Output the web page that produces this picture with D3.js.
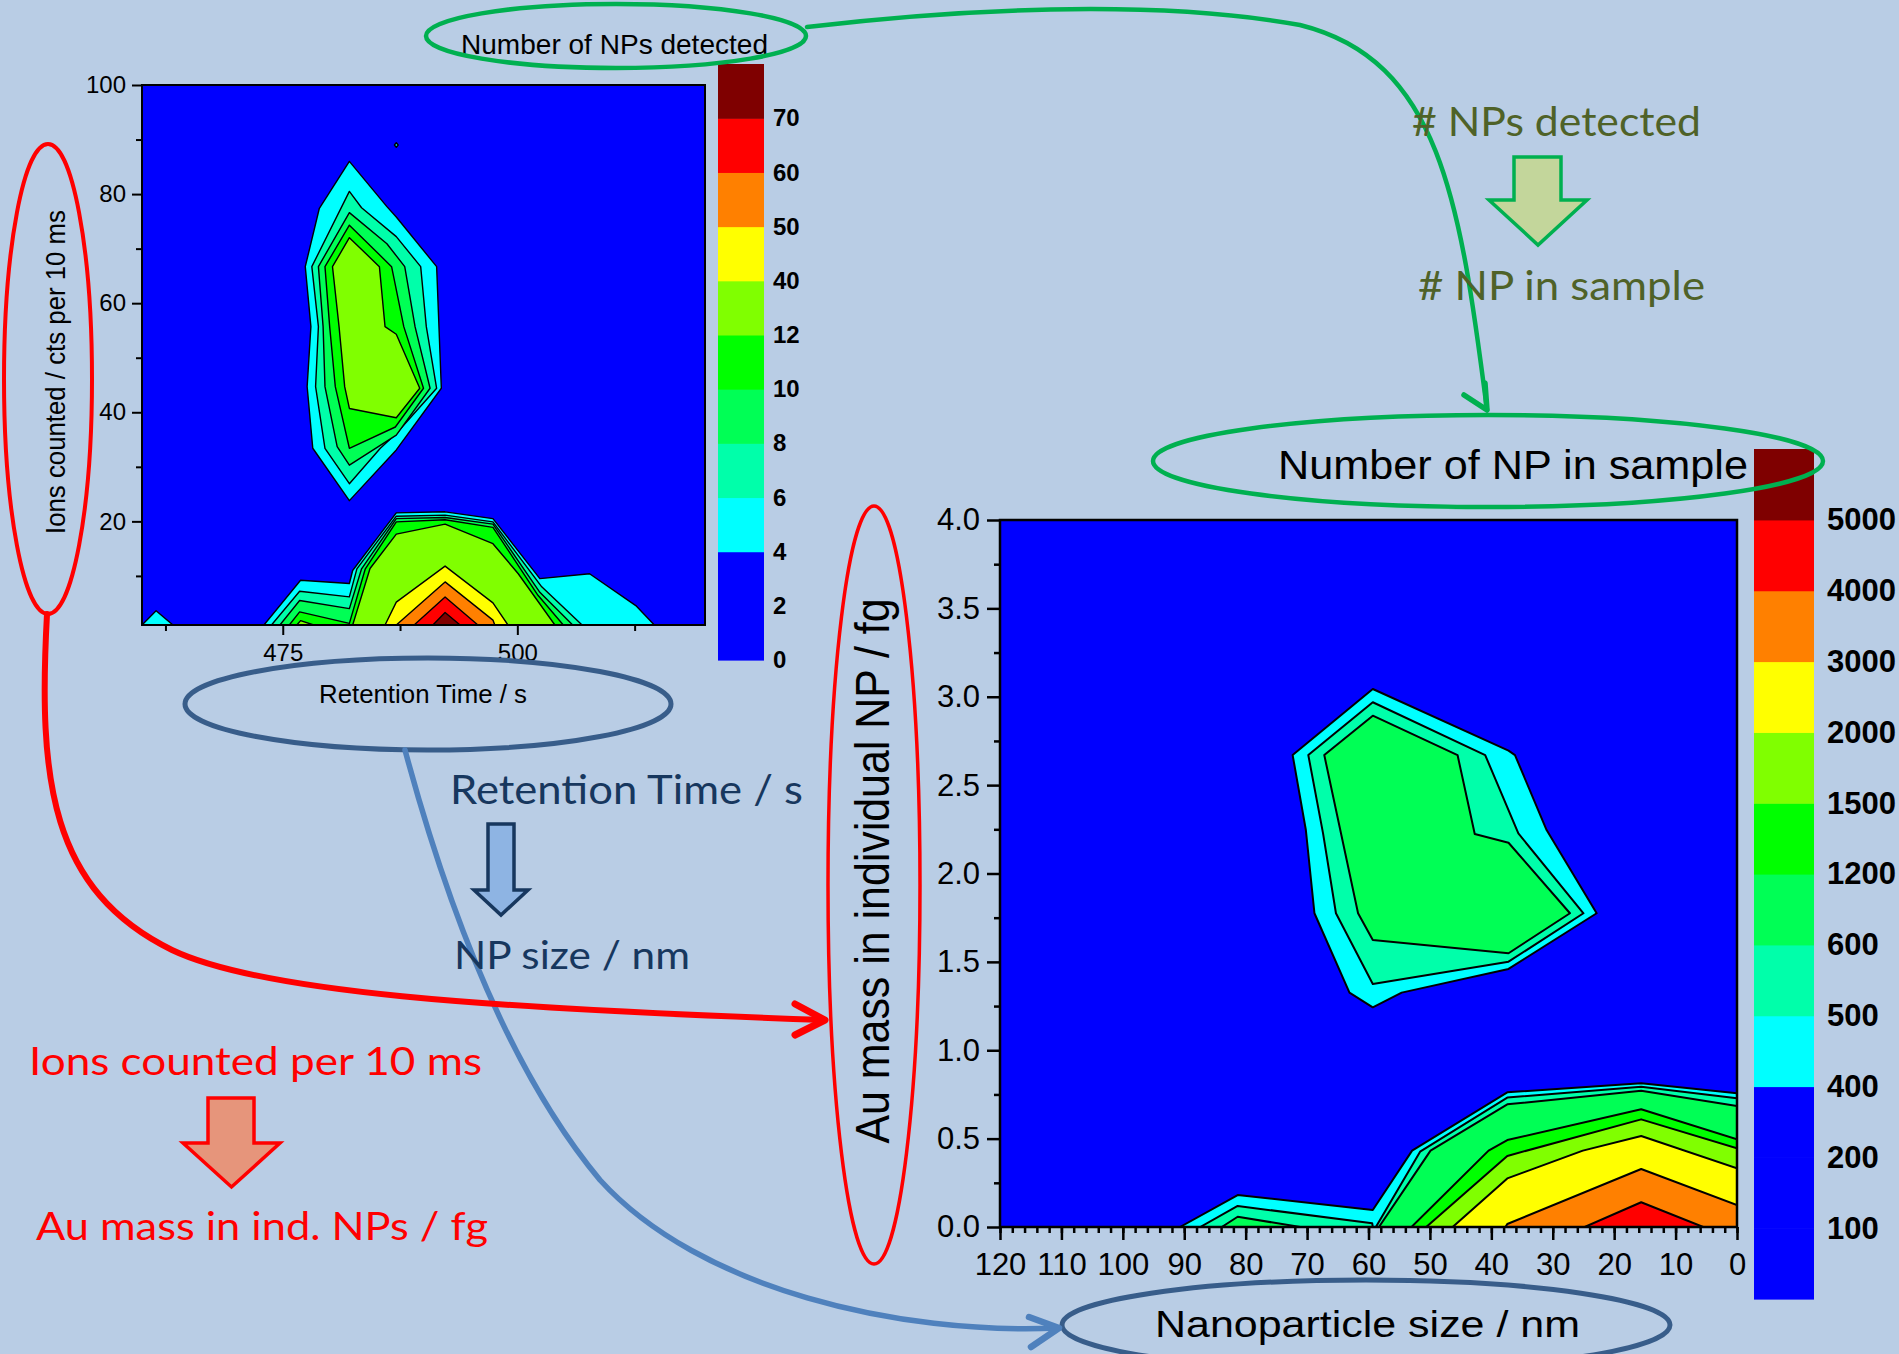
<!DOCTYPE html>
<html>
<head>
<meta charset="utf-8">
<script src="https://cdn.jsdelivr.net/npm/d3@7"></script>
<style>
  body { margin: 0; background: #b9cde5; }
  svg { display: block; }
</style>
</head>
<body>
<div id="visualization"></div>
<script>
let w = 1899;
let h = 1354;

// ---------- small plot: number of NPs detected ----------
let detLevels = [0, 2, 4, 6, 8, 10, 12, 40, 50, 60, 70, 80];
let detColors = ["#0000ff", "#0000ff", "#00ffff", "#00ffaa", "#00ff55", "#00ff00",
                 "#80ff00", "#ffff00", "#ff8000", "#ff0000", "#7f0000"];
let detXTicks = [475, 500];
let detXMinor = [462.5, 487.5, 512.5];
let detYTicks = [20, 40, 60, 80, 100];
let detYMinor = [10, 30, 50, 70, 90];
// contour outlines, [retention time s, ions counted] for value >= level
let detContours = [
  {level: 4, pts: [[482.1,86.0],[486.1,77.7],[487.1,75.8],[491.4,66.7],[491.9,44.4],[487.1,33.1],[482.1,23.8],[478.2,33.4],[477.6,44.7],[478.0,55.7],[477.4,66.7],[478.9,77.4]]},
  {level: 6, pts: [[482.1,80.5],[483.4,77.5],[487.1,72.2],[489.7,66.7],[490.3,55.7],[491.4,44.4],[487.1,36.1],[485.4,33.4],[482.1,26.9],[479.5,33.4],[478.5,44.7],[478.8,55.7],[478.1,66.7]]},
  {level: 8, pts: [[482.1,76.6],[486.1,70.9],[488.0,66.7],[489.1,55.7],[490.7,44.4],[487.1,35.8],[482.1,30.3],[480.8,33.7],[479.5,44.7],[479.3,55.7],[478.8,66.7]]},
  {level: 10, pts: [[482.1,74.3],[486.6,66.7],[487.9,55.7],[490.0,44.4],[487.0,37.3],[482.1,33.4],[480.6,44.7],[480.0,55.7],[479.5,66.7]]},
  {level: 12, pts: [[482.1,72.0],[485.3,66.7],[485.9,55.7],[487.1,54.3],[489.6,44.4],[487.1,39.0],[482.1,40.7],[481.6,44.7],[481.0,55.7],[480.3,66.7]]},
  {level: 4, pts: [[486.9,89.0],[487.1,89.4],[487.3,89.0],[487.1,88.6]]},
  {level: 4, pts: [[460.0,1],[461.5,3.6],[463.3,1]]},
  {level: 4, pts: [[473.0,1],[476.9,9.2],[482.1,8.6],[482.45,11.0],[487.1,21.55],[492.3,21.75],[497.4,20.5],[502.4,9.5],[507.7,10.4],[512.7,4.45],[514.6,1]]},
  {level: 6, pts: [[473.8,1],[476.8,7.2],[482.1,6.15],[482.9,11.3],[487.1,20.95],[492.3,21.15],[497.4,19.9],[502.6,8.0],[506.9,1]]},
  {level: 8, pts: [[474.7,1],[476.8,5.5],[482.1,4.0],[483.4,11.3],[487.1,20.5],[492.3,20.7],[497.4,19.5],[502.4,7.0],[505.9,1]]},
  {level: 10, pts: [[475.7,1],[476.8,3.4],[482.1,1.3],[483.8,11.3],[487.1,19.9],[492.3,20.3],[497.4,18.9],[502.2,6.45],[504.9,1]]},
  {level: 12, pts: [[482.45,1],[484.3,11.35],[487.1,17.65],[492.3,19.5],[497.4,15.9],[500.1,10.4],[504.0,1]]},
  {level: 12, pts: [[476.5,1],[476.9,1.8],[478.3,1]]},
  {level: 40, pts: [[485.9,1],[487.1,5.2],[492.3,11.8],[497.4,5.05],[499.0,1]]},
  {level: 50, pts: [[487.1,1],[492.3,8.9],[497.4,1.9],[497.6,1]]},
  {level: 60, pts: [[489.0,1],[492.3,6.15],[495.8,1]]},
  {level: 70, pts: [[491.0,1],[492.3,3.3],[493.9,1]]}
];

// ---------- big plot: number of NP in sample ----------
let smpLevels = [0, 100, 200, 400, 500, 600, 1200, 1500, 2000, 3000, 4000, 5000, 6000];
let smpColors = ["#0000ff", "#0000ff", "#0000ff", "#00ffff", "#00ffaa", "#00ff55",
                 "#00ff00", "#80ff00", "#ffff00", "#ff8000", "#ff0000", "#7f0000"];
let smpXTicks = [0, 10, 20, 30, 40, 50, 60, 70, 80, 90, 100, 110, 120];
let smpXMinor = d3.range(0, 121, 2);
let smpYTicks = [0, 0.5, 1, 1.5, 2, 2.5, 3, 3.5, 4];
let smpYMinor = [0.25, 0.75, 1.25, 1.75, 2.25, 2.75, 3.25, 3.75];
// contour outlines, [size nm, mass fg] for value >= level
let smpContours = [
  {level: 400, pts: [[59.3,3.044],[37.2,2.695],[36.15,2.670],[31.0,2.246],[22.85,1.775],[37.2,1.460],[54.6,1.326],[59.3,1.243],[63.1,1.326],[68.8,1.775],[70.2,2.246],[72.35,2.670]]},
  {level: 500, pts: [[59.3,2.969],[41.0,2.670],[35.6,2.227],[25.0,1.775],[37.2,1.501],[59.3,1.375],[65.3,1.775],[67.4,2.227],[69.8,2.670]]},
  {level: 600, pts: [[59.3,2.893],[45.5,2.670],[42.7,2.223],[37.2,2.174],[27.2,1.775],[37.2,1.549],[59.3,1.624],[61.7,1.775],[67.2,2.670]]},
  {level: 400, pts: [[90.7,0],[81.3,0.181],[59.3,0.096],[52.9,0.432],[37.4,0.762],[15.6,0.813],[0,0.756],[0,0]]},
  {level: 500, pts: [[87.4,0],[81.3,0.119],[59.4,0.021],[59.3,0]]},
  {level: 500, pts: [[58.8,0],[51.6,0.426],[37.4,0.732],[15.6,0.794],[0,0.728],[0,0]]},
  {level: 600, pts: [[83.9,0],[81.3,0.058],[71.1,0]]},
  {level: 600, pts: [[58.3,0],[49.9,0.432],[37.4,0.694],[15.6,0.771],[0,0.685],[0,0]]},
  {level: 1200, pts: [[53.0,0],[40.45,0.432],[37.4,0.492],[15.6,0.666],[0,0.496],[0,0]]},
  {level: 1500, pts: [[50.6,0],[37.4,0.402],[15.6,0.609],[0,0.445],[0,0]]},
  {level: 2000, pts: [[46.3,0],[37.4,0.275],[25.1,0.432],[15.6,0.515],[0,0.332],[0,0]]},
  {level: 3000, pts: [[37.7,0],[37.4,0.017],[15.6,0.328],[0,0.124],[0,0]]},
  {level: 4000, pts: [[24.8,0],[15.6,0.140],[5.5,0]]}
];

let chartFont = "'Liberation Sans', Arial, sans-serif";
let noteFont = "Lato, 'Open Sans', sans-serif";

let viz = d3.select("#visualization")
  .append("svg")
    .attr("width", w)
    .attr("height", h)
    .style("background-color", "#b9cde5")
;

function contourPlot(o) {
  let x = d3.scaleLinear().domain(o.xDomain).range([o.left, o.right]);
  let y = d3.scaleLinear().domain(o.yDomain).range([o.bottom, o.top]);
  let g = viz.append("g").attr("class", o.id);

  g.append("clipPath").attr("id", o.id + "-clip")
    .append("rect")
      .attr("x", o.left).attr("y", o.top)
      .attr("width", o.right - o.left).attr("height", o.bottom - o.top);

  // lowest band fills the frame
  g.append("rect")
    .attr("x", o.left).attr("y", o.top)
    .attr("width", o.right - o.left).attr("height", o.bottom - o.top)
    .attr("fill", o.colors[0]);

  let line = d3.line()
    .x(d => x(d[0]))
    .y(d => y(d[1]))
    .curve(d3.curveLinearClosed);

  let sorted = o.contours.slice().sort((a, b) => a.level - b.level);
  g.append("g")
    .attr("clip-path", "url(#" + o.id + "-clip)")
    .selectAll(".contour").data(sorted).enter()
    .append("path")
      .attr("class", "contour")
      .attr("d", d => line(d.pts))
      .attr("fill", d => o.colors[o.levels.indexOf(d.level)])
      .attr("stroke", "#000")
      .attr("stroke-width", o.lineW)
      .attr("stroke-linejoin", "round");

  // axes
  let xAxis = d3.axisBottom(x).tickValues(o.xTicks).tickFormat(o.xFormat)
    .tickSize(o.major).tickPadding(o.xPad);
  let xMinor = d3.axisBottom(x).tickValues(o.xMinor).tickFormat("").tickSize(o.minor);
  let yAxis = d3.axisLeft(y).tickValues(o.yTicks).tickFormat(o.yFormat)
    .tickSize(o.major).tickPadding(o.yPad);
  let yMinor = d3.axisLeft(y).tickValues(o.yMinor).tickFormat("").tickSize(o.minor);

  [[xAxis, "translate(0," + o.bottom + ")"], [xMinor, "translate(0," + o.bottom + ")"],
   [yAxis, "translate(" + o.left + ",0)"], [yMinor, "translate(" + o.left + ",0)"]].forEach(a => {
    let ag = g.append("g").attr("transform", a[1]).call(a[0]);
    ag.select(".domain").remove();
    ag.attr("font-family", chartFont).attr("font-size", o.tickFont);
    ag.selectAll("line").attr("stroke", "#000").attr("stroke-width", o.frameW);
    ag.selectAll("text").attr("fill", "#000");
  });

  // frame
  g.append("rect")
    .attr("x", o.left).attr("y", o.top)
    .attr("width", o.right - o.left).attr("height", o.bottom - o.top)
    .attr("fill", "none")
    .attr("stroke", "#000")
    .attr("stroke-width", o.frameW);

  return g;
}

function colorBar(o) {
  let s = d3.scaleLinear().domain([0, o.levels.length - 1]).range([o.bottom, o.top]);
  let g = viz.append("g");
  g.selectAll("rect").data(o.colors).enter()
    .append("rect")
      .attr("x", o.left)
      .attr("width", o.width)
      .attr("y", (d, i) => s(i + 1))
      .attr("height", (d, i) => s(i) - s(i + 1) + 0.6)
      .attr("fill", d => d);
  let axis = d3.axisRight(s)
    .tickValues(o.labelIdx)
    .tickFormat(i => o.levels[i])
    .tickSize(0)
    .tickPadding(o.pad);
  let ag = g.append("g").attr("transform", "translate(" + (o.left + o.width) + ",0)").call(axis);
  ag.select(".domain").remove();
  ag.attr("font-family", chartFont).attr("font-size", o.font).attr("font-weight", "bold");
  ag.selectAll("text").attr("fill", "#000");
}

contourPlot({
  id: "det", xDomain: [460, 520], yDomain: [1, 100],
  left: 142, right: 705, top: 85, bottom: 625,
  levels: detLevels, colors: detColors, contours: detContours,
  xTicks: detXTicks, xMinor: detXMinor, yTicks: detYTicks, yMinor: detYMinor,
  xFormat: d3.format("d"), yFormat: d3.format("d"),
  major: 10, minor: 6, xPad: 9, yPad: 6, tickFont: 24, lineW: 1.4, frameW: 2
});
colorBar({
  levels: detLevels, colors: detColors, labelIdx: d3.range(0, 11),
  left: 718, width: 46, top: 64, bottom: 660, pad: 9, font: 24
});

contourPlot({
  id: "smp", xDomain: [120, 0], yDomain: [0, 4],
  left: 1000, right: 1737, top: 520, bottom: 1227,
  levels: smpLevels, colors: smpColors, contours: smpContours,
  xTicks: smpXTicks, xMinor: smpXMinor, yTicks: smpYTicks, yMinor: smpYMinor,
  xFormat: d3.format("d"), yFormat: d3.format(".1f"),
  major: 13, minor: 6, xPad: 13, yPad: 7, tickFont: 31, lineW: 2, frameW: 2.5
});
colorBar({
  levels: smpLevels, colors: smpColors, labelIdx: d3.range(1, 12),
  left: 1754, width: 60, top: 449, bottom: 1299, pad: 13, font: 31
});

// ---------- chart titles ----------
let titles = [
  {t: "Number of NPs detected", x: 461, y: 54, size: 28, len: 307},
  {t: "Retention Time / s", x: 319, y: 703, size: 25, len: 208},
  {t: "Number of NP in sample", x: 1278, y: 479, size: 40, len: 470},
  {t: "Nanoparticle size / nm", x: 1155, y: 1337, size: 37, len: 425}
];
viz.selectAll(".title").data(titles).enter()
  .append("text")
    .attr("class", "title")
    .attr("x", d => d.x).attr("y", d => d.y)
    .attr("font-family", chartFont)
    .attr("font-size", d => d.size)
    .attr("textLength", d => d.len)
    .attr("lengthAdjust", "spacingAndGlyphs")
    .attr("fill", "#000")
    .text(d => d.t);

let vTitles = [
  {t: "Ions counted / cts per 10 ms", x: 65, y: 372, size: 28, len: 324},
  {t: "Au mass in individual NP / fg", x: 889, y: 871, size: 48, len: 545}
];
viz.selectAll(".vtitle").data(vTitles).enter()
  .append("text")
    .attr("class", "vtitle")
    .attr("transform", d => "translate(" + d.x + "," + d.y + ") rotate(-90)")
    .attr("text-anchor", "middle")
    .attr("font-family", chartFont)
    .attr("font-size", d => d.size)
    .attr("textLength", d => d.len)
    .attr("lengthAdjust", "spacingAndGlyphs")
    .attr("fill", "#000")
    .text(d => d.t);

// ---------- annotations ----------
let ellipses = [
  {cx: 616, cy: 36, rx: 190, ry: 32, c: "#00b050", sw: 4.5},
  {cx: 1488, cy: 461, rx: 335, ry: 46, c: "#00b050", sw: 4.5},
  {cx: 48, cy: 379, rx: 44, ry: 235, c: "#ff0000", sw: 4},
  {cx: 874, cy: 885, rx: 46, ry: 379, c: "#ff0000", sw: 3.5},
  {cx: 428, cy: 704, rx: 243, ry: 46, c: "#385d8a", sw: 5},
  {cx: 1366, cy: 1325, rx: 304, ry: 45, c: "#385d8a", sw: 5}
];
viz.selectAll(".ell").data(ellipses).enter()
  .append("ellipse")
    .attr("class", "ell")
    .attr("cx", d => d.cx).attr("cy", d => d.cy)
    .attr("rx", d => d.rx).attr("ry", d => d.ry)
    .attr("fill", "none")
    .attr("stroke", d => d.c)
    .attr("stroke-width", d => d.sw);

// connector curves: start point, then cubic segments [c1, c2, end]
let curves = [
  {c: "#4f81bd", sw: 5.5, start: [405, 750],
   segs: [[[440, 880], [500, 1060], [600, 1180]], [[700, 1290], [900, 1335], [1058, 1328]]],
   head: [[1029, 1317], [1059, 1328], [1031, 1347]]},
  {c: "#ff0000", sw: 6, start: [47, 614],
   segs: [[[38, 780], [50, 890], [172, 950]], [[260, 992], [480, 1008], [825, 1020]]],
   head: [[795, 1004], [825, 1020], [795, 1035]]},
  {c: "#00b050", sw: 4.5, start: [807, 27],
   segs: [[[950, 10], [1150, -2], [1300, 25]], [[1440, 60], [1460, 200], [1487, 410]]],
   head: [[1464, 395], [1487, 410], [1485, 383]]}
];
let headLine = d3.line();
curves.forEach(c => {
  let p = d3.path();
  p.moveTo(c.start[0], c.start[1]);
  c.segs.forEach(s => p.bezierCurveTo(s[0][0], s[0][1], s[1][0], s[1][1], s[2][0], s[2][1]));
  viz.append("path")
    .attr("d", p.toString())
    .attr("fill", "none")
    .attr("stroke", c.c)
    .attr("stroke-width", c.sw)
    .attr("stroke-linecap", "round");
  viz.append("path")
    .attr("d", headLine(c.head))
    .attr("fill", "none")
    .attr("stroke", c.c)
    .attr("stroke-width", c.sw + 1)
    .attr("stroke-linecap", "round")
    .attr("stroke-linejoin", "round");
});

// block arrows: shaft left/right, top, neck, head left/right, tip
let blocks = [
  {s0: 1514, s1: 1561, top: 157, neck: 200, h0: 1489, h1: 1587, tip: 245, fill: "#c3d69b", c: "#00b050"},
  {s0: 488, s1: 514, top: 824, neck: 890, h0: 474, h1: 528, tip: 915, fill: "#8eb4e3", c: "#17375e"},
  {s0: 208, s1: 254, top: 1098, neck: 1143, h0: 183, h1: 280, tip: 1187, fill: "#e6957b", c: "#ff0000"}
];
viz.selectAll(".block").data(blocks).enter()
  .append("path")
    .attr("class", "block")
    .attr("d", d => {
      let mid = (d.h0 + d.h1) / 2;
      return "M" + d.s0 + "," + d.top + "H" + d.s1 + "V" + d.neck + "H" + d.h1 +
             "L" + mid + "," + d.tip + "L" + d.h0 + "," + d.neck + "H" + d.s0 + "Z";
    })
    .attr("fill", d => d.fill)
    .attr("stroke", d => d.c)
    .attr("stroke-width", 3.5);

let notes = [
  {t: "# NPs detected", x: 1412, y: 136, size: 41, len: 289, c: "#4f6228"},
  {t: "# NP in sample", x: 1418, y: 300, size: 41, len: 287, c: "#4f6228"},
  {t: "Retention Time / s", x: 450, y: 804, size: 40, len: 353, c: "#17375e"},
  {t: "NP size / nm", x: 454, y: 969, size: 38, len: 236, c: "#17375e"},
  {t: "Ions counted per 10 ms", x: 29, y: 1075, size: 38, len: 453, c: "#ff0000"},
  {t: "Au mass in ind. NPs / fg", x: 36, y: 1240, size: 38, len: 452, c: "#ff0000"}
];
viz.selectAll(".note").data(notes).enter()
  .append("text")
    .attr("class", "note")
    .attr("x", d => d.x).attr("y", d => d.y)
    .attr("font-family", noteFont)
    .attr("font-size", d => d.size)
    .attr("textLength", d => d.len)
    .attr("lengthAdjust", "spacingAndGlyphs")
    .attr("fill", d => d.c)
    .text(d => d.t);
</script>
</body>
</html>
